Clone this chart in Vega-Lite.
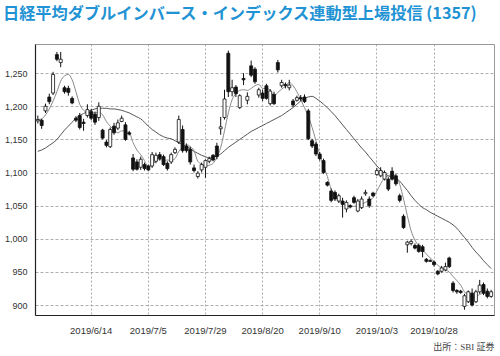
{
  "$schema": "https://vega.github.io/schema/vega-lite/v6.json",
  "width": 459,
  "height": 271,
  "autosize": {"type": "none"},
  "padding": {"left": 35, "top": 44, "right": 6, "bottom": 41},
  "background": "white",
  "title": {
    "text": "日経平均ダブルインバース・インデックス連動型上場投信 (1357)",
    "anchor": "start", "frame": "group", "dx": -32, "offset": 9, "baseline": "alphabetic",
    "font": "Noto Sans CJK JP", "fontSize": 16.2, "fontWeight": "bold", "color": "#1f93d4"
  },
  "config": {
    "view": {"stroke": "#999", "strokeWidth": 1},
    "axisY": {"labelFont": "Liberation Sans", "labelFontSize": 9, "labelColor": "#333", "labelPadding": 8, "ticks": false, "grid": true, "gridColor": "#999", "gridDash": [3, 2], "gridWidth": 0.8, "domainColor": "#222", "domainWidth": 1.2}
  },
  "data": {"values": [
    {"d":"2019/5/27","o":1178,"h":1186,"l":1174,"c":1180,"m5":1180,"m25":1132},
    {"d":"2019/5/28","o":1179,"h":1181,"l":1166,"c":1171,"m5":1181,"m25":1134},
    {"d":"2019/5/29","o":1193,"h":1204,"l":1190,"c":1200,"m5":1187,"m25":1137},
    {"d":"2019/5/30","o":1214,"h":1219,"l":1203,"c":1207,"m5":1196,"m25":1141},
    {"d":"2019/5/31","o":1220,"h":1252,"l":1217,"c":1248,"m5":1208,"m25":1145},
    {"d":"2019/6/3","o":1278,"h":1282,"l":1268,"c":1271,"m5":1222,"m25":1150},
    {"d":"2019/6/4","o":1266,"h":1282,"l":1259,"c":1271,"m5":1238,"m25":1157},
    {"d":"2019/6/5","o":1228,"h":1231,"l":1219,"c":1222,"m5":1246,"m25":1164},
    {"d":"2019/6/6","o":1227,"h":1231,"l":1216,"c":1221,"m5":1248,"m25":1170},
    {"d":"2019/6/7","o":1212,"h":1215,"l":1203,"c":1205,"m5":1240,"m25":1176},
    {"d":"2019/6/10","o":1182,"h":1185,"l":1176,"c":1179,"m5":1222,"m25":1182},
    {"d":"2019/6/11","o":1186,"h":1190,"l":1165,"c":1168,"m5":1203,"m25":1186},
    {"d":"2019/6/12","o":1176,"h":1181,"l":1163,"c":1174,"m5":1194,"m25":1189},
    {"d":"2019/6/13","o":1186,"h":1203,"l":1183,"c":1195,"m5":1191,"m25":1192},
    {"d":"2019/6/14","o":1192,"h":1196,"l":1179,"c":1182,"m5":1190,"m25":1194},
    {"d":"2019/6/17","o":1188,"h":1192,"l":1172,"c":1176,"m5":1190,"m25":1196},
    {"d":"2019/6/18","o":1183,"h":1206,"l":1178,"c":1200,"m5":1191,"m25":1197},
    {"d":"2019/6/19","o":1164,"h":1166,"l":1150,"c":1152,"m5":1187,"m25":1197},
    {"d":"2019/6/20","o":1146,"h":1149,"l":1138,"c":1141,"m5":1177,"m25":1197},
    {"d":"2019/6/21","o":1139,"h":1168,"l":1137,"c":1165,"m5":1170,"m25":1196},
    {"d":"2019/6/24","o":1170,"h":1175,"l":1157,"c":1160,"m5":1164,"m25":1196},
    {"d":"2019/6/25","o":1167,"h":1180,"l":1164,"c":1175,"m5":1160,"m25":1195},
    {"d":"2019/6/26","o":1177,"h":1186,"l":1176,"c":1182,"m5":1163,"m25":1194},
    {"d":"2019/6/27","o":1172,"h":1176,"l":1148,"c":1150,"m5":1162,"m25":1192},
    {"d":"2019/6/28","o":1160,"h":1163,"l":1156,"c":1158,"m5":1160,"m25":1190},
    {"d":"2019/7/1","o":1122,"h":1128,"l":1102,"c":1105,"m5":1145,"m25":1187},
    {"d":"2019/7/2","o":1116,"h":1120,"l":1103,"c":1105,"m5":1134,"m25":1184},
    {"d":"2019/7/3","o":1108,"h":1124,"l":1104,"c":1120,"m5":1127,"m25":1181},
    {"d":"2019/7/4","o":1112,"h":1115,"l":1103,"c":1106,"m5":1118,"m25":1176},
    {"d":"2019/7/5","o":1110,"h":1112,"l":1102,"c":1104,"m5":1108,"m25":1170},
    {"d":"2019/7/8","o":1110,"h":1131,"l":1107,"c":1127,"m5":1112,"m25":1165},
    {"d":"2019/7/9","o":1117,"h":1130,"l":1114,"c":1126,"m5":1117,"m25":1161},
    {"d":"2019/7/10","o":1127,"h":1131,"l":1118,"c":1121,"m5":1120,"m25":1157},
    {"d":"2019/7/11","o":1124,"h":1127,"l":1110,"c":1112,"m5":1118,"m25":1154},
    {"d":"2019/7/12","o":1114,"h":1117,"l":1103,"c":1106,"m5":1119,"m25":1152},
    {"d":"2019/7/16","o":1116,"h":1130,"l":1113,"c":1127,"m5":1118,"m25":1151},
    {"d":"2019/7/17","o":1130,"h":1138,"l":1128,"c":1135,"m5":1121,"m25":1148},
    {"d":"2019/7/18","o":1146,"h":1186,"l":1143,"c":1180,"m5":1132,"m25":1145},
    {"d":"2019/7/19","o":1165,"h":1171,"l":1130,"c":1133,"m5":1138,"m25":1142},
    {"d":"2019/7/22","o":1140,"h":1144,"l":1130,"c":1133,"m5":1142,"m25":1139},
    {"d":"2019/7/23","o":1135,"h":1139,"l":1112,"c":1116,"m5":1139,"m25":1136},
    {"d":"2019/7/24","o":1107,"h":1112,"l":1100,"c":1103,"m5":1133,"m25":1132},
    {"d":"2019/7/25","o":1094,"h":1102,"l":1091,"c":1099,"m5":1117,"m25":1129},
    {"d":"2019/7/26","o":1104,"h":1115,"l":1100,"c":1112,"m5":1113,"m25":1126},
    {"d":"2019/7/29","o":1108,"h":1120,"l":1092,"c":1118,"m5":1110,"m25":1124},
    {"d":"2019/7/30","o":1117,"h":1124,"l":1114,"c":1121,"m5":1111,"m25":1122},
    {"d":"2019/7/31","o":1126,"h":1128,"l":1117,"c":1119,"m5":1114,"m25":1123},
    {"d":"2019/8/1","o":1140,"h":1145,"l":1120,"c":1124,"m5":1123,"m25":1125},
    {"d":"2019/8/2","o":1166,"h":1184,"l":1157,"c":1169,"m5":1138,"m25":1128},
    {"d":"2019/8/5","o":1183,"h":1225,"l":1180,"c":1211,"m5":1163,"m25":1133},
    {"d":"2019/8/6","o":1280,"h":1284,"l":1214,"c":1222,"m5":1190,"m25":1138},
    {"d":"2019/8/7","o":1222,"h":1240,"l":1215,"c":1228,"m5":1210,"m25":1142},
    {"d":"2019/8/8","o":1229,"h":1232,"l":1214,"c":1219,"m5":1219,"m25":1146},
    {"d":"2019/8/9","o":1198,"h":1218,"l":1196,"c":1216,"m5":1224,"m25":1150},
    {"d":"2019/8/13","o":1242,"h":1250,"l":1232,"c":1240,"m5":1225,"m25":1154},
    {"d":"2019/8/14","o":1209,"h":1221,"l":1203,"c":1215,"m5":1224,"m25":1158},
    {"d":"2019/8/15","o":1261,"h":1269,"l":1244,"c":1247,"m5":1227,"m25":1162},
    {"d":"2019/8/16","o":1256,"h":1259,"l":1234,"c":1237,"m5":1231,"m25":1165},
    {"d":"2019/8/19","o":1217,"h":1228,"l":1213,"c":1225,"m5":1233,"m25":1168},
    {"d":"2019/8/20","o":1220,"h":1225,"l":1208,"c":1212,"m5":1227,"m25":1171},
    {"d":"2019/8/21","o":1231,"h":1234,"l":1210,"c":1212,"m5":1227,"m25":1174},
    {"d":"2019/8/22","o":1204,"h":1226,"l":1201,"c":1223,"m5":1224,"m25":1177},
    {"d":"2019/8/23","o":1218,"h":1222,"l":1202,"c":1204,"m5":1215,"m25":1180},
    {"d":"2019/8/26","o":1266,"h":1270,"l":1251,"c":1255,"m5":1221,"m25":1183},
    {"d":"2019/8/27","o":1231,"h":1240,"l":1228,"c":1236,"m5":1226,"m25":1186},
    {"d":"2019/8/28","o":1233,"h":1236,"l":1227,"c":1231,"m5":1230,"m25":1190},
    {"d":"2019/8/29","o":1228,"h":1240,"l":1224,"c":1232,"m5":1236,"m25":1194},
    {"d":"2019/8/30","o":1208,"h":1211,"l":1199,"c":1202,"m5":1231,"m25":1198},
    {"d":"2019/9/2","o":1209,"h":1216,"l":1207,"c":1213,"m5":1222,"m25":1203},
    {"d":"2019/9/3","o":1213,"h":1217,"l":1208,"c":1211,"m5":1210,"m25":1208},
    {"d":"2019/9/4","o":1214,"h":1218,"l":1205,"c":1207,"m5":1198,"m25":1212},
    {"d":"2019/9/5","o":1193,"h":1196,"l":1149,"c":1151,"m5":1185,"m25":1214},
    {"d":"2019/9/6","o":1148,"h":1151,"l":1137,"c":1140,"m5":1168,"m25":1215},
    {"d":"2019/9/9","o":1143,"h":1146,"l":1125,"c":1128,"m5":1148,"m25":1212},
    {"d":"2019/9/10","o":1128,"h":1131,"l":1118,"c":1121,"m5":1127,"m25":1208},
    {"d":"2019/9/11","o":1118,"h":1121,"l":1098,"c":1100,"m5":1110,"m25":1203},
    {"d":"2019/9/12","o":1085,"h":1087,"l":1079,"c":1081,"m5":1094,"m25":1198},
    {"d":"2019/9/13","o":1072,"h":1076,"l":1055,"c":1058,"m5":1075,"m25":1192},
    {"d":"2019/9/17","o":1070,"h":1073,"l":1057,"c":1060,"m5":1066,"m25":1186},
    {"d":"2019/9/18","o":1057,"h":1068,"l":1054,"c":1065,"m5":1058,"m25":1179},
    {"d":"2019/9/19","o":1057,"h":1062,"l":1032,"c":1052,"m5":1053,"m25":1172},
    {"d":"2019/9/20","o":1045,"h":1058,"l":1040,"c":1055,"m5":1050,"m25":1165},
    {"d":"2019/9/24","o":1050,"h":1052,"l":1046,"c":1048,"m5":1049,"m25":1158},
    {"d":"2019/9/25","o":1062,"h":1065,"l":1053,"c":1055,"m5":1049,"m25":1151},
    {"d":"2019/9/26","o":1042,"h":1060,"l":1040,"c":1057,"m5":1050,"m25":1144},
    {"d":"2019/9/27","o":1047,"h":1064,"l":1045,"c":1060,"m5":1052,"m25":1137},
    {"d":"2019/9/30","o":1068,"h":1074,"l":1065,"c":1070,"m5":1055,"m25":1131},
    {"d":"2019/10/1","o":1060,"h":1064,"l":1047,"c":1050,"m5":1058,"m25":1124},
    {"d":"2019/10/2","o":1069,"h":1071,"l":1063,"c":1065,"m5":1062,"m25":1117},
    {"d":"2019/10/3","o":1097,"h":1107,"l":1095,"c":1103,"m5":1072,"m25":1110},
    {"d":"2019/10/4","o":1095,"h":1108,"l":1093,"c":1103,"m5":1083,"m25":1104},
    {"d":"2019/10/7","o":1090,"h":1103,"l":1088,"c":1100,"m5":1092,"m25":1099},
    {"d":"2019/10/8","o":1090,"h":1093,"l":1072,"c":1075,"m5":1095,"m25":1095},
    {"d":"2019/10/9","o":1102,"h":1108,"l":1088,"c":1090,"m5":1097,"m25":1093},
    {"d":"2019/10/10","o":1095,"h":1098,"l":1080,"c":1083,"m5":1094,"m25":1091},
    {"d":"2019/10/11","o":1065,"h":1068,"l":1055,"c":1058,"m5":1082,"m25":1087},
    {"d":"2019/10/15","o":1034,"h":1037,"l":1015,"c":1017,"m5":1060,"m25":1080},
    {"d":"2019/10/16","o":991,"h":997,"l":979,"c":995,"m5":1035,"m25":1073},
    {"d":"2019/10/17","o":993,"h":999,"l":990,"c":996,"m5":1012,"m25":1065},
    {"d":"2019/10/18","o":990,"h":993,"l":984,"c":986,"m5":998,"m25":1058},
    {"d":"2019/10/21","o":990,"h":993,"l":979,"c":981,"m5":989,"m25":1052},
    {"d":"2019/10/23","o":988,"h":991,"l":972,"c":981,"m5":983,"m25":1047},
    {"d":"2019/10/24","o":969,"h":971,"l":964,"c":966,"m5":977,"m25":1044},
    {"d":"2019/10/25","o":967,"h":969,"l":965,"c":966,"m5":971,"m25":1040},
    {"d":"2019/10/28","o":965,"h":967,"l":958,"c":961,"m5":966,"m25":1037},
    {"d":"2019/10/29","o":951,"h":953,"l":945,"c":947,"m5":960,"m25":1034},
    {"d":"2019/10/30","o":951,"h":959,"l":949,"c":956,"m5":956,"m25":1031},
    {"d":"2019/10/31","o":953,"h":964,"l":951,"c":958,"m5":953,"m25":1028},
    {"d":"2019/11/1","o":971,"h":973,"l":956,"c":958,"m5":950,"m25":1025},
    {"d":"2019/11/5","o":933,"h":936,"l":919,"c":922,"m5":943,"m25":1021},
    {"d":"2019/11/6","o":922,"h":924,"l":917,"c":920,"m5":937,"m25":1016},
    {"d":"2019/11/7","o":921,"h":923,"l":917,"c":919,"m5":930,"m25":1009},
    {"d":"2019/11/8","o":898,"h":917,"l":893,"c":914,"m5":920,"m25":1002},
    {"d":"2019/11/11","o":905,"h":922,"l":903,"c":920,"m5":915,"m25":995},
    {"d":"2019/11/12","o":918,"h":925,"l":898,"c":900,"m5":912,"m25":987},
    {"d":"2019/11/13","o":905,"h":923,"l":903,"c":920,"m5":913,"m25":980},
    {"d":"2019/11/14","o":920,"h":938,"l":917,"c":930,"m5":916,"m25":974},
    {"d":"2019/11/15","o":931,"h":934,"l":915,"c":918,"m5":918,"m25":967},
    {"d":"2019/11/18","o":921,"h":925,"l":910,"c":913,"m5":916,"m25":961},
    {"d":"2019/11/19","o":913,"h":923,"l":911,"c":920,"m5":919,"m25":955}
  ]},
  "encoding": {
    "x": {
      "field": "d", "type": "ordinal", "sort": null,
      "scale": {"type": "band", "paddingInner": 0, "paddingOuter": 0.25},
      "axis": {
        "values": ["2019/6/14", "2019/7/5", "2019/7/29", "2019/8/20", "2019/9/10", "2019/10/3", "2019/10/28"],
        "bandPosition": 0.5, "grid": true, "gridColor": "#999", "gridDash": [2, 2], "gridWidth": 0.8,
        "ticks": false, "labelAngle": 0, "labelFont": "Liberation Sans", "labelFontSize": 9.5, "labelColor": "#333", "labelPadding": 10,
        "domainColor": "#222", "domainWidth": 1.2,
        "title": "出所：SBI 証券", "titleAnchor": "end", "titleAlign": "right", "titleBaseline": "top",
        "titleFont": "Liberation Serif, Noto Sans CJK JP", "titleFontSize": 9, "titleFontWeight": "normal", "titleColor": "#444", "titlePadding": 8
      }
    }
  },
  "layer": [
    {
      "mark": {"type": "line", "color": "#555", "strokeWidth": 1, "interpolate": "monotone"},
      "encoding": {"y": {"field": "m25", "type": "quantitative", "title": null, "scale": {"domain": [885, 1294], "zero": false, "nice": false}}}
    },
    {
      "mark": {"type": "line", "color": "#8a8a8a", "strokeWidth": 1, "interpolate": "monotone"},
      "encoding": {"y": {"field": "m5", "type": "quantitative", "title": null}}
    },
    {
      "mark": {"type": "rule", "color": "#111", "strokeWidth": 1},
      "encoding": {"y": {"field": "l", "type": "quantitative", "title": null}, "y2": {"field": "h"}}
    },
    {
      "mark": {"type": "bar", "size": 3, "stroke": "#111", "strokeWidth": 0.8},
      "encoding": {
        "y": {"field": "o", "type": "quantitative", "title": null},
        "y2": {"field": "c"},
        "fill": {"condition": {"test": "datum.c >= datum.o", "value": "white"}, "value": "#111"}
      }
    }
  ]
}
